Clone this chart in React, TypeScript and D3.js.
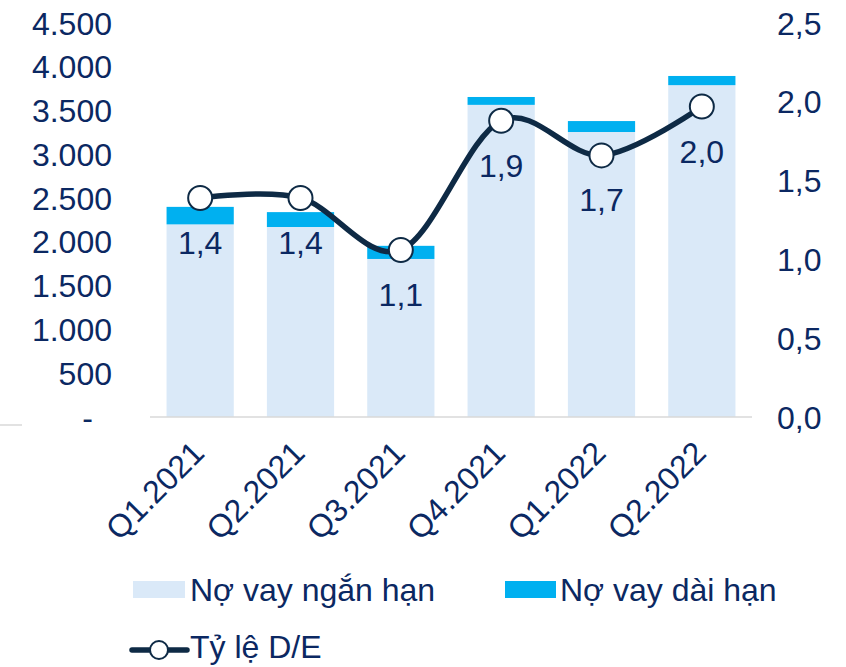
import { useEffect, useRef } from "react";
import * as d3 from "d3";

const quarters = ["Q1.2021", "Q2.2021", "Q3.2021", "Q4.2021", "Q1.2022", "Q2.2022"];
const shortTermDebt = [2200, 2170, 1805, 3565, 3255, 3790];
const longTermDebt = [200, 170, 150, 90, 125, 105];
const debtToEquity = [1.39, 1.39, 1.06, 1.88, 1.66, 1.97];
const leftTicks = [0, 500, 1000, 1500, 2000, 2500, 3000, 3500, 4000, 4500];
const rightTicks = [0, 0.5, 1, 1.5, 2, 2.5];

const W = 846;
const H = 667;
const FONT = "'Liberation Sans', Arial, sans-serif";
const FS = 32;
const TEXT = "#0b2862";
const LIGHT = "#dae9f8";
const CYAN = "#00b0f0";
const LINE = "#0e2a45";

export default function App() {
  const ref = useRef<SVGSVGElement | null>(null);

  useEffect(() => {
    const svg = d3.select(ref.current);
    svg.selectAll("*").remove();

    const top = 23;
    const base = 417;
    const x = d3.scaleBand<string>().domain(quarters).range([150, 752]).paddingInner(0.33).paddingOuter(0.165);
    const yL = d3.scaleLinear().domain([0, 4500]).range([base, top]);
    const yR = d3.scaleLinear().domain([0, 2.5]).range([base, top]);

    // stray line of the neighbouring chart at the left edge
    svg.append("line").attr("x1", 0).attr("x2", 22).attr("y1", 425).attr("y2", 425)
      .attr("stroke", "#d9d9d9").attr("stroke-width", 1.5);

    // left axis labels
    svg.append("g").selectAll("text").data(leftTicks).join("text")
      .attr("x", (d) => (d === 0 ? 93 : 112))
      .attr("y", (d) => yL(d))
      .attr("dy", "0.36em")
      .attr("text-anchor", "end")
      .attr("font-family", FONT).attr("font-size", FS).attr("fill", TEXT)
      .text((d) => (d === 0 ? "-" : d3.format(",")(d).replace(/,/g, ".")));

    // right axis labels
    svg.append("g").selectAll("text").data(rightTicks).join("text")
      .attr("x", 777)
      .attr("y", (d) => yR(d))
      .attr("dy", "0.36em")
      .attr("font-family", FONT).attr("font-size", FS).attr("fill", TEXT)
      .text((d) => d.toFixed(1).replace(".", ","));

    // bars
    const bars = svg.append("g");
    quarters.forEach((q, i) => {
      const s = shortTermDebt[i];
      const l = longTermDebt[i];
      bars.append("rect").attr("x", x(q)!).attr("width", x.bandwidth())
        .attr("y", yL(s)).attr("height", yL(0) - yL(s)).attr("fill", LIGHT);
      bars.append("rect").attr("x", x(q)!).attr("width", x.bandwidth())
        .attr("y", yL(s + l)).attr("height", yL(s) - yL(s + l)).attr("fill", CYAN);
    });

    // baseline
    svg.append("line").attr("x1", 150).attr("x2", 752).attr("y1", base).attr("y2", base)
      .attr("stroke", "#d9d9d9").attr("stroke-width", 1.5);

    // category labels
    svg.append("g").selectAll("text").data(quarters).join("text")
      .attr("transform", (d) => `translate(${x(d)! + x.bandwidth() / 2 + 6},455) rotate(-45)`)
      .attr("text-anchor", "end")
      .attr("font-family", FONT).attr("font-size", FS).attr("fill", TEXT)
      .text((d) => d);

    // D/E line
    const cx = (i: number) => x(quarters[i])! + x.bandwidth() / 2;
    const line = d3.line<number>().x((_, i) => cx(i)).y((d) => yR(d)).curve(d3.curveCardinal.tension(0));
    svg.append("path").attr("d", line(debtToEquity)!).attr("fill", "none")
      .attr("stroke", LINE).attr("stroke-width", 5.5).attr("stroke-linecap", "round");

    svg.append("g").selectAll("circle").data(debtToEquity).join("circle")
      .attr("cx", (_, i) => cx(i)).attr("cy", (d) => yR(d)).attr("r", 12)
      .attr("fill", "#fff").attr("stroke", LINE).attr("stroke-width", 2);

    svg.append("g").selectAll("text").data(debtToEquity).join("text")
      .attr("x", (_, i) => cx(i)).attr("y", (d) => yR(d) + 56)
      .attr("text-anchor", "middle")
      .attr("font-family", FONT).attr("font-size", FS).attr("fill", TEXT)
      .text((d) => d.toFixed(1).replace(".", ","));

    // legend
    const lg = svg.append("g").attr("font-family", FONT).attr("font-size", FS).attr("fill", TEXT);
    lg.append("rect").attr("x", 133).attr("y", 581).attr("width", 52).attr("height", 17).attr("fill", LIGHT);
    lg.append("text").attr("x", 190).attr("y", 601).text("Nợ vay ngắn hạn");
    lg.append("rect").attr("x", 505).attr("y", 581).attr("width", 51).attr("height", 17).attr("fill", CYAN);
    lg.append("text").attr("x", 560).attr("y", 601).text("Nợ vay dài hạn");
    lg.append("line").attr("x1", 132).attr("x2", 187).attr("y1", 650).attr("y2", 650)
      .attr("stroke", LINE).attr("stroke-width", 5.5).attr("stroke-linecap", "round");
    lg.append("circle").attr("cx", 159).attr("cy", 650).attr("r", 9)
      .attr("fill", "#fff").attr("stroke", LINE).attr("stroke-width", 2);
    lg.append("text").attr("x", 190).attr("y", 658).text("Tỷ lệ D/E");
  }, []);

  return (
    <svg ref={ref} width={W} height={H} style={{ position: "absolute", left: 0, top: 0, background: "#fff" }} />
  );
}
